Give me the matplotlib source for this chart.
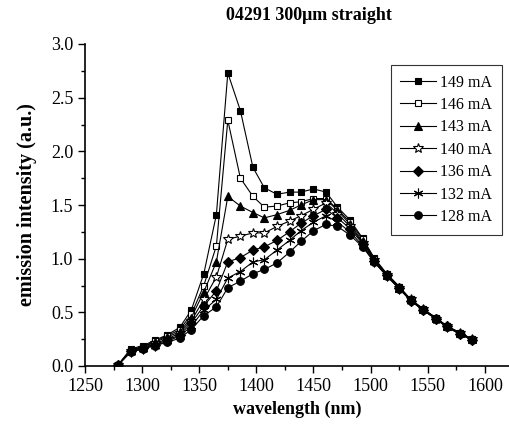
import matplotlib
matplotlib.use("Agg")
import matplotlib.pyplot as plt

plt.rcParams['font.family'] = ['Liberation Serif', 'DejaVu Serif']
plt.rcParams['mathtext.fontset'] = 'stix'

# wavelength (nm)
wavelength = [1279, 1290, 1301, 1311, 1322, 1333, 1343, 1354, 1365, 1375,
              1386, 1397, 1407, 1418, 1429, 1439, 1450, 1461, 1471, 1482,
              1493, 1503, 1514, 1525, 1535, 1546, 1557, 1567, 1578, 1589]

i149 = [0.01, 0.16, 0.19, 0.24, 0.29, 0.36, 0.52, 0.86, 1.41, 2.73,
        2.38, 1.85, 1.66, 1.60, 1.62, 1.62, 1.65, 1.62, 1.48, 1.36,
        1.19, 1.01, 0.86, 0.74, 0.62, 0.53, 0.45, 0.37, 0.31, 0.25]
i146 = [0.01, 0.15, 0.18, 0.23, 0.28, 0.34, 0.48, 0.75, 1.12, 2.29,
        1.75, 1.58, 1.48, 1.49, 1.52, 1.53, 1.56, 1.56, 1.46, 1.34,
        1.18, 1.00, 0.86, 0.74, 0.62, 0.53, 0.45, 0.37, 0.31, 0.25]
i143 = [0.01, 0.15, 0.18, 0.22, 0.27, 0.32, 0.45, 0.69, 0.97, 1.58,
        1.49, 1.43, 1.38, 1.41, 1.45, 1.50, 1.55, 1.55, 1.45, 1.32,
        1.16, 1.00, 0.85, 0.73, 0.62, 0.53, 0.45, 0.37, 0.31, 0.25]
i140 = [0.01, 0.14, 0.17, 0.21, 0.25, 0.31, 0.42, 0.62, 0.83, 1.18,
        1.21, 1.24, 1.24, 1.30, 1.35, 1.40, 1.46, 1.52, 1.42, 1.30,
        1.15, 0.99, 0.85, 0.73, 0.62, 0.53, 0.44, 0.37, 0.31, 0.25]
i136 = [0.01, 0.14, 0.17, 0.20, 0.24, 0.29, 0.40, 0.56, 0.70, 0.97,
        1.01, 1.08, 1.11, 1.17, 1.25, 1.33, 1.40, 1.46, 1.38, 1.28,
        1.14, 0.98, 0.85, 0.73, 0.61, 0.52, 0.44, 0.37, 0.30, 0.24]
i132 = [0.01, 0.13, 0.16, 0.19, 0.23, 0.28, 0.37, 0.52, 0.62, 0.82,
        0.88, 0.97, 0.99, 1.08, 1.17, 1.26, 1.34, 1.40, 1.34, 1.25,
        1.12, 0.97, 0.84, 0.72, 0.61, 0.52, 0.44, 0.36, 0.30, 0.24]
i128 = [0.01, 0.13, 0.16, 0.19, 0.22, 0.26, 0.34, 0.47, 0.55, 0.73,
        0.79, 0.86, 0.90, 0.96, 1.06, 1.16, 1.26, 1.32, 1.30, 1.22,
        1.11, 0.97, 0.84, 0.72, 0.61, 0.52, 0.44, 0.36, 0.30, 0.24]

labels = ['149 mA', '146 mA', '143 mA', '140 mA', '136 mA', '132 mA', '128 mA']
series = [i149, i146, i143, i140, i136, i132, i128]
markers = ['s', 's', '^', '*', 'D', (6, 2, 0), 'o']
faces = ['black', 'white', 'black', 'white', 'black', 'black', 'black']
sizes = [5, 5, 6, 7, 5, 7, 5.5]

fig = plt.figure(figsize=(5.1, 4.3), dpi=100)
ax = fig.add_axes([85 / 510, 64 / 430, 425 / 510, 322 / 430])

for y, lab, m, fc, ms in zip(series, labels, markers, faces, sizes):
    ax.plot(wavelength, y, color='black', lw=0.8, marker=m, ms=ms,
            mfc=fc, mec='black', mew=0.8, label=lab)

ax.set_xlim(1250, 1622)
ax.set_ylim(0, 3.0)
ax.set_xticks([1250, 1300, 1350, 1400, 1450, 1500, 1550, 1600])
ax.set_xticks(range(1275, 1625, 50), minor=True)
ax.set_yticks([0.0, 0.5, 1.0, 1.5, 2.0, 2.5, 3.0])
ax.set_yticks([0.25, 0.75, 1.25, 1.75, 2.25, 2.75], minor=True)
ax.yaxis.set_major_formatter(matplotlib.ticker.FormatStrFormatter('%.1f'))
ax.tick_params(which='major', direction='out', length=5, width=1, labelsize=13)
ax.tick_params(which='minor', direction='out', length=3, width=1)
ax.spines['top'].set_visible(False)
ax.spines['right'].set_visible(False)
for s in ['left', 'bottom']:
    ax.spines[s].set_linewidth(1.2)

ax.set_xlabel('wavelength (nm)', fontsize=13, fontweight='bold', labelpad=4)
ax.set_ylabel('emission intensity (a.u.)', fontsize=14.5, fontweight='bold', labelpad=10)
fig.text(309 / 510, 1 - 15 / 430, '04291 300μm straight', ha='center', va='center',
         fontsize=13, fontweight='bold')

leg = ax.legend(loc='upper right', bbox_to_anchor=(502 / 510, 1 - 65 / 430),
                bbox_transform=fig.transFigure, borderaxespad=0, fontsize=11.5,
                frameon=True, fancybox=False, edgecolor='black', handlelength=2.2,
                labelspacing=0.4, borderpad=0.6, handletextpad=0.3)
leg.get_frame().set_linewidth(0.8)

fig.savefig('out.png', dpi=100)
